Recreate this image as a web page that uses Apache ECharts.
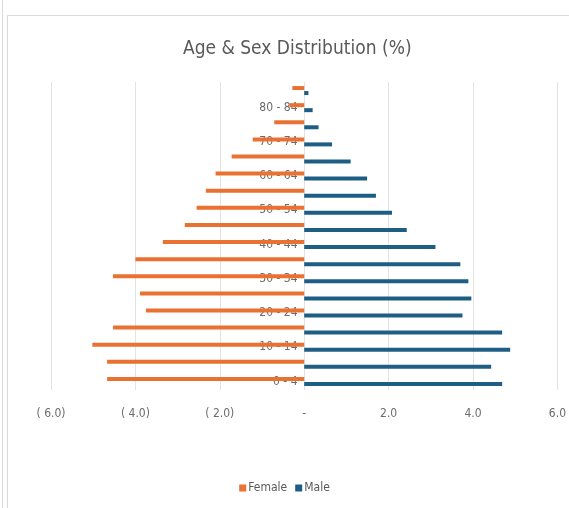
<!DOCTYPE html>
<html>
<head>
<meta charset="utf-8">
<script src="https://cdn.jsdelivr.net/npm/echarts@6/dist/echarts.min.js"></script>
<style>html,body{margin:0;padding:0;background:#fff;}#c{width:569px;height:508px;}</style>
</head>
<body>
<div id="c"></div>
<script>
const ageGroups = ['0 - 4','5 - 9','10 - 14','15 - 19','20 - 24','25 - 29','30 - 34','35 - 39','40 - 44','45 - 49','50 - 54','55 - 59','60 - 64','65 - 69','70 - 74','75 - 79','80 - 84','85+'];
const femaleValues = [4.67, 4.67, 5.02, 4.53, 3.75, 3.89, 4.53, 4.0, 3.35, 2.83, 2.55, 2.33, 2.1, 1.72, 1.22, 0.71, 0.35, 0.28];
const maleValues = [4.69, 4.43, 4.88, 4.69, 3.75, 3.96, 3.89, 3.7, 3.11, 2.43, 2.08, 1.7, 1.49, 1.1, 0.66, 0.34, 0.2, 0.1];
const xTicks = [-6, -4, -2, 0, 2, 4, 6];

const FONT = '"Liberation Sans Narrow", "DejaVu Sans Condensed", "Roboto Condensed", sans-serif';
const GRID_LEFT = 51, GRID_RIGHT = 9, W = 569;
const zeroOffset = -((W - GRID_LEFT - GRID_RIGHT) * (0 - xTicks[0]) / (xTicks[xTicks.length - 1] - xTicks[0]));
const chart = echarts.init(document.getElementById('c'), null, {renderer: 'canvas'});
chart.setOption({
  backgroundColor: '#ffffff',
  animation: false,
  title: {
    text: 'Age & Sex Distribution (%)',
    left: 178,
    top: 35,
    textStyle: {fontFamily: FONT, fontSize: 19, fontWeight: 'normal', color: '#595959'}
  },
  graphic: [
    {type: 'rect', shape: {x: 7.5, y: 15.5, width: 700, height: 700}, style: {fill: 'none', stroke: '#D9D9D9', lineWidth: 1}, silent: true},
    {type: 'line', shape: {x1: 2.5, y1: 0, x2: 2.5, y2: 508}, style: {stroke: '#D9D9D9', lineWidth: 1}, silent: true}
  ],
  legend: {
    bottom: 9,
    left: 'center',
    itemWidth: 7,
    itemHeight: 7,
    itemGap: 8,
    icon: 'rect',
    textStyle: {fontFamily: FONT, fontSize: 12, color: '#595959', padding: [0, 0, 0, -3]},
    data: ['Female', 'Male']
  },
  grid: {left: GRID_LEFT, right: GRID_RIGHT, top: 82, bottom: 118, containLabel: false},
  xAxis: {
    type: 'value',
    min: xTicks[0],
    max: xTicks[xTicks.length - 1],
    interval: 2,
    axisLine: {show: false},
    axisTick: {show: false},
    splitLine: {show: true, lineStyle: {color: '#E3E3E3', width: 1}},
    axisLabel: {
      margin: 18,
      fontFamily: FONT,
      fontSize: 12,
      color: '#6b6b6b',
      formatter: function (v) {
        if (v === 0) return '-';
        if (v < 0) return '( ' + Math.abs(v).toFixed(1) + ')';
        return v.toFixed(1);
      }
    }
  },
  yAxis: {
    type: 'category',
    position: 'left',
    offset: zeroOffset,
    data: ageGroups,
    axisLine: {show: false, onZero: false},
    axisTick: {show: false},
    axisLabel: {interval: 1, fontFamily: FONT, fontSize: 12, color: '#6b6b6b', margin: 8}
  },
  series: [
    {
      name: 'Female',
      type: 'bar',
      data: femaleValues.map(v => -v),
      barWidth: 4,
      barGap: '25%',
      itemStyle: {color: '#E97132'}
    },
    {
      name: 'Male',
      type: 'bar',
      data: maleValues,
      barWidth: 4,
      itemStyle: {color: '#1F5E84'}
    }
  ]
});
</script>
</body>
</html>
